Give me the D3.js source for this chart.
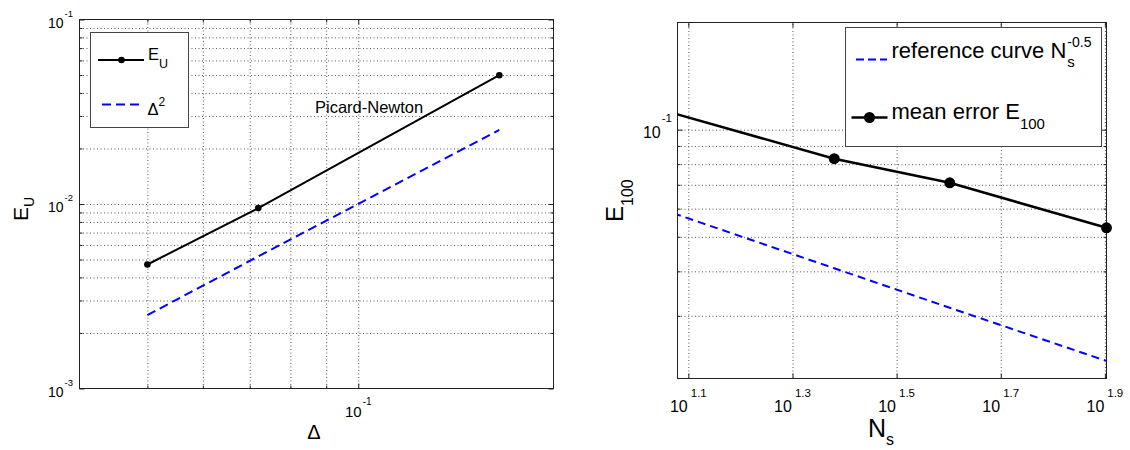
<!DOCTYPE html>
<html><head><meta charset="utf-8">
<script src="https://cdn.jsdelivr.net/npm/d3@7"></script>
<style>
body{margin:0;background:#fff}
text{font-family:"Liberation Sans",Arial,Helvetica,sans-serif;fill:#000}
</style>
</head><body>
<svg id="c" width="1130" height="450"></svg>
<script>
// ---------- Left panel data ----------
const deltaValues   = [0.05, 0.072, 0.159];
const euValues      = [0.0047, 0.0095, 0.0499];
const deltaSqValues = [0.0025, 0.0052, 0.0252];
const leftXMajor = [0.1];
const leftXMajorLabels = ["-1"];
const leftXMinor = [0.05, 0.06, 0.07, 0.08, 0.09];
const leftYMajor = [0.001, 0.01, 0.1];
const leftYMajorLabels = ["-3", "-2", "-1"];
const leftYMinor = [0.002,0.003,0.004,0.005,0.006,0.007,0.008,0.009,
                    0.02,0.03,0.04,0.05,0.06,0.07,0.08,0.09];
const leftLegend = ["E", "U", "\u0394", "2"];
const annotation = "Picard-Newton";

// ---------- Right panel data ----------
const nsValues      = [10, 24, 40, 80];
const meanErrValues = [0.119, 0.0829, 0.0709, 0.0530];
const refValues     = [0.0632, 0.0408, 0.0316, 0.0224];
const rightXTickExps = [1.1, 1.3, 1.5, 1.7, 1.9];
const rightXTickLabels = ["1.1", "1.3", "1.5", "1.7", "1.9"];
const rightYMajor = [0.1];
const rightYMajorLabels = ["-1"];
const rightYMinor = [0.03,0.04,0.05,0.06,0.07,0.08,0.09];

const svg = d3.select("#c");

function gridAndTicks(g, x, y, xGrid, yGrid, xMajor, xMinor, yMajor, yMinor, x0, x1, y0, y1) {
  const gridStyle = s => { s.select(".domain").remove();
    s.selectAll("line").attr("stroke", "#555").attr("stroke-width", 1).attr("stroke-dasharray", "1,2.5"); };
  g.append("g").attr("transform", `translate(0,${y1})`)
    .call(d3.axisBottom(x).tickValues(xGrid).tickSize(-(y1 - y0)).tickFormat("")).call(gridStyle);
  g.append("g").attr("transform", `translate(${x0},0)`)
    .call(d3.axisLeft(y).tickValues(yGrid).tickSize(-(x1 - x0)).tickFormat("")).call(gridStyle);
  const tickStyle = s => { s.select(".domain").remove(); s.selectAll("line").attr("stroke", "#222"); };
  [[xMajor, 5], [xMinor, 3]].forEach(([vals, len]) => {
    g.append("g").attr("transform", `translate(0,${y1})`)
      .call(d3.axisBottom(x).tickValues(vals).tickSize(-len).tickFormat("")).call(tickStyle);
    g.append("g").attr("transform", `translate(0,${y0})`)
      .call(d3.axisTop(x).tickValues(vals).tickSize(-len).tickFormat("")).call(tickStyle);
  });
  [[yMajor, 5], [yMinor, 3]].forEach(([vals, len]) => {
    g.append("g").attr("transform", `translate(${x0},0)`)
      .call(d3.axisLeft(y).tickValues(vals).tickSize(-len).tickFormat("")).call(tickStyle);
    g.append("g").attr("transform", `translate(${x1},0)`)
      .call(d3.axisRight(y).tickValues(vals).tickSize(-len).tickFormat("")).call(tickStyle);
  });
  g.append("rect").attr("x", x0).attr("y", y0).attr("width", x1 - x0).attr("height", y1 - y0)
    .attr("fill", "none").attr("stroke", "#222").attr("stroke-width", 1);
}

function powLabel(g, px, py, exp, anchor, mainSize, supSize, dy, dx) {
  const t = g.append("text").attr("x", px).attr("y", py).attr("text-anchor", anchor)
    .style("font-size", mainSize + "px");
  t.append("tspan").text("10");
  t.append("tspan").attr("dy", dy).attr("dx", dx).style("font-size", supSize + "px").text(exp);
}

// ================= LEFT PANEL =================
{
  const x0 = 79.5, x1 = 553.5, y0 = 19.5, y1 = 388.5;
  const x = d3.scaleLog().domain([0.04, 0.19]).range([x0, x1]);
  const y = d3.scaleLog().domain([0.001, 0.1]).range([y1, y0]);
  const g = svg.append("g");
  svg.append("clipPath").attr("id", "clipL").append("rect")
    .attr("x", x0).attr("y", y0).attr("width", x1 - x0).attr("height", y1 - y0);
  g.append("rect").attr("x", x0).attr("y", y0).attr("width", x1 - x0).attr("height", y1 - y0).attr("fill", "#fff");
  gridAndTicks(g, x, y, leftXMinor.concat(leftXMajor), leftYMinor.concat([0.01]),
    leftXMajor, leftXMinor, leftYMajor, leftYMinor, x0, x1, y0, y1);

  const line = d3.line().x(d => x(d[0])).y(d => y(d[1]));
  const plot = g.append("g").attr("clip-path", "url(#clipL)");
  plot.append("path").datum(deltaValues.map((d, i) => [d, deltaSqValues[i]]))
    .attr("d", line).attr("fill", "none").attr("stroke", "#0000ff").attr("stroke-width", 2)
    .attr("stroke-dasharray", "9,5");
  plot.append("path").datum(deltaValues.map((d, i) => [d, euValues[i]]))
    .attr("d", line).attr("fill", "none").attr("stroke", "#000").attr("stroke-width", 2);
  plot.selectAll("circle.m").data(deltaValues.map((d, i) => [d, euValues[i]])).enter()
    .append("circle").attr("cx", d => x(d[0])).attr("cy", d => y(d[1])).attr("r", 3.3).attr("fill", "#000");

  g.append("text").attr("x", 315).attr("y", 113).style("font-size", "16.5px").text(annotation);

  // tick labels
  leftYMajor.forEach((v, i) => powLabel(g, 73, y(v) + 8, leftYMajorLabels[i], "end", 14, 9.5, -11, 1));
  leftXMajor.forEach((v, i) => powLabel(g, x(v), 417, leftXMajorLabels[i], "middle", 15, 10, -12, 1));

  // axis labels
  g.append("text").attr("x", 314).attr("y", 439).attr("text-anchor", "middle")
    .style("font-size", "20px").text("\u0394");
  const yl = g.append("text").attr("transform", "translate(28,221) rotate(-90)").style("font-size", "21px");
  yl.append("tspan").text("E");
  yl.append("tspan").attr("dy", 6).style("font-size", "14px").text("U");

  // legend
  const lg = g.append("g");
  lg.append("rect").attr("x", 90.5).attr("y", 32.5).attr("width", 98).attr("height", 95)
    .attr("fill", "#fff").attr("stroke", "#444").attr("stroke-width", 1);
  lg.append("line").attr("x1", 98).attr("x2", 144).attr("y1", 60).attr("y2", 60)
    .attr("stroke", "#000").attr("stroke-width", 2);
  lg.append("circle").attr("cx", 121.5).attr("cy", 60).attr("r", 3.3).attr("fill", "#000");
  const t1 = lg.append("text").attr("x", 148).attr("y", 60).style("font-size", "16.5px");
  t1.append("tspan").text(leftLegend[0]);
  t1.append("tspan").attr("dy", 8).style("font-size", "12.5px").text(leftLegend[1]);
  lg.append("line").attr("x1", 102).attr("x2", 144).attr("y1", 104.5).attr("y2", 104.5)
    .attr("stroke", "#0000ff").attr("stroke-width", 2).attr("stroke-dasharray", "9,5");
  const t2 = lg.append("text").attr("x", 147.5).attr("y", 115).style("font-size", "16.5px");
  t2.append("tspan").text(leftLegend[2]);
  t2.append("tspan").attr("dy", -9).style("font-size", "12px").text(leftLegend[3]);
}

// ================= RIGHT PANEL =================
{
  const x0 = 677.5, x1 = 1106.5, y0 = 22.5, y1 = 378.5;
  const x = d3.scaleLog().domain([12, 80]).range([x0, x1]);
  const y = d3.scaleLog().domain([0.02, 0.2]).range([y1, y0]);
  const g = svg.append("g");
  svg.append("clipPath").attr("id", "clipR").append("rect")
    .attr("x", x0).attr("y", y0).attr("width", x1 - x0).attr("height", y1 - y0);
  g.append("rect").attr("x", x0).attr("y", y0).attr("width", x1 - x0).attr("height", y1 - y0).attr("fill", "#fff");
  const xt = rightXTickExps.map(e => Math.pow(10, e));
  gridAndTicks(g, x, y, xt, rightYMinor.concat(rightYMajor),
    xt, [], rightYMajor, rightYMinor, x0, x1, y0, y1);

  const line = d3.line().x(d => x(d[0])).y(d => y(d[1]));
  const plot = g.append("g").attr("clip-path", "url(#clipR)");
  plot.append("path").datum(nsValues.map((d, i) => [d, refValues[i]]))
    .attr("d", line).attr("fill", "none").attr("stroke", "#0000ff").attr("stroke-width", 2)
    .attr("stroke-dasharray", "8,5");
  plot.append("path").datum(nsValues.map((d, i) => [d, meanErrValues[i]]))
    .attr("d", line).attr("fill", "none").attr("stroke", "#000").attr("stroke-width", 2.5);
  g.selectAll("circle.m").data(nsValues.map((d, i) => [d, meanErrValues[i]]).filter(d => d[0] >= 12)).enter()
    .append("circle").attr("cx", d => x(d[0])).attr("cy", d => y(d[1])).attr("r", 5.5).attr("fill", "#000");

  // tick labels
  xt.forEach((v, i) => powLabel(g, x(v), 411.5, rightXTickLabels[i], "middle", 16, 11.5, -15, 3));
  rightYMajor.forEach((v, i) => powLabel(g, 672, y(v) + 8, rightYMajorLabels[i], "end", 16, 11.5, -16, 1));

  // axis labels
  const xl = g.append("text").attr("x", 868).attr("y", 437).style("font-size", "25px");
  xl.append("tspan").text("N");
  xl.append("tspan").attr("dy", 8).style("font-size", "16px").text("s");
  const yl = g.append("text").attr("transform", "translate(623,222) rotate(-90)").style("font-size", "24px");
  yl.append("tspan").text("E");
  yl.append("tspan").attr("dy", 10).style("font-size", "16px").text("100");

  // legend
  const lg = g.append("g");
  lg.append("rect").attr("x", 845.5).attr("y", 27.5).attr("width", 256).attr("height", 119)
    .attr("fill", "#fff").attr("stroke", "#444").attr("stroke-width", 1);
  lg.append("line").attr("x1", 856).attr("x2", 887).attr("y1", 59.5).attr("y2", 59.5)
    .attr("stroke", "#0000ff").attr("stroke-width", 2).attr("stroke-dasharray", "8,4");
  const r1 = lg.append("text").attr("x", 891.5).attr("y", 57.5).style("font-size", "22px").text("reference curve N");
  const w1 = r1.node().getComputedTextLength();
  lg.append("text").attr("x", 891.5 + w1 + 1).attr("y", 66.5).style("font-size", "15px").text("s");
  lg.append("text").attr("x", 891.5 + w1 + 1).attr("y", 46.5).style("font-size", "14px").text("-0.5");
  lg.append("line").attr("x1", 851.5).attr("x2", 887.5).attr("y1", 117.5).attr("y2", 117.5)
    .attr("stroke", "#000").attr("stroke-width", 2.5);
  lg.append("circle").attr("cx", 869.5).attr("cy", 117.5).attr("r", 5.5).attr("fill", "#000");
  const r2 = lg.append("text").attr("x", 891.5).attr("y", 118.5).style("font-size", "22px");
  r2.append("tspan").text("mean error E");
  r2.append("tspan").attr("dy", 10).style("font-size", "15px").text("100");
}
</script>
</body></html>
